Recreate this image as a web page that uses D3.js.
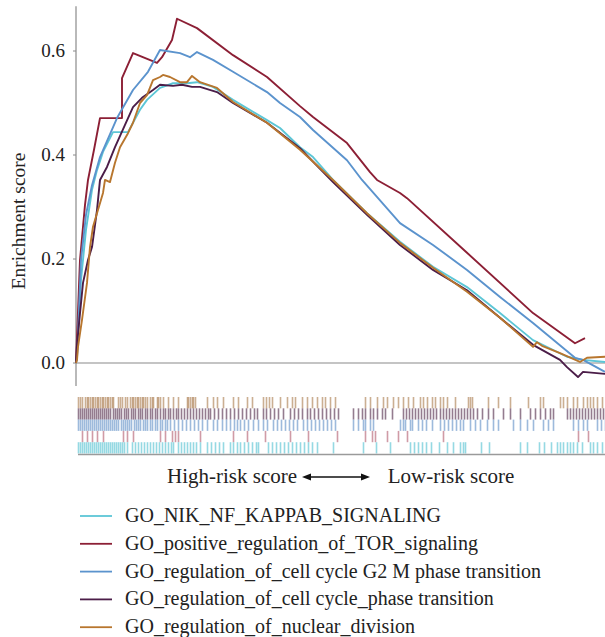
<!DOCTYPE html>
<html lang="en">
<head>
  <meta charset="UTF-8">
  <title>GSEA enrichment curves</title>
  <script src="https://d3js.org/d3.v7.min.js"></script>
  <style>
    body { margin: 0; background: #fff; }
    svg text { font-family: "Liberation Serif", "DejaVu Serif", serif; fill: #222; }
  </style>
</head>
<body>
  <svg width="605" height="637"></svg>
  <script>
    // gene sets, in legend order
    const setNames = [
      "GO_NIK_NF_KAPPAB_SIGNALING",
      "GO_positive_regulation_of_TOR_signaling",
      "GO_regulation_of_cell cycle G2 M phase transition",
      "GO_regulation_of_cell cycle_phase transition",
      "GO_regulation_of_nuclear_division"
    ];
    const setColors = ["#5cc6d6", "#8c1f35", "#5b93cd", "#4b1d48", "#b8762e"];
    const rugColors = ["#4ec0d0", "#b0586a", "#5b8cc4", "#4d2545", "#a87a4a"];

    // running enrichment score: [rank position, ES]
    const esNik = [[0,0.0],[1,0.015],[5,0.16],[10,0.256],[16,0.333],[21,0.371],[27,0.406],[37,0.444],[52,0.444],[64,0.487],[71,0.506],[84,0.529],[97,0.538],[111,0.538],[121,0.54],[137,0.531],[157,0.506],[191,0.467],[204,0.452],[224,0.415],[237,0.396],[257,0.352],[291,0.288],[324,0.233],[357,0.185],[391,0.146],[424,0.096],[457,0.044],[491,0.012],[507,0.006],[529,0.002]];
    const esTor = [[0,0.0],[4,0.198],[9,0.304],[12,0.352],[18,0.41],[24,0.471],[46,0.471],[46,0.548],[57,0.596],[81,0.577],[86,0.588],[96,0.621],[101,0.662],[121,0.644],[157,0.592],[191,0.55],[224,0.494],[237,0.473],[271,0.423],[294,0.367],[301,0.352],[324,0.327],[331,0.317],[391,0.212],[457,0.096],[499,0.038],[509,0.048]];
    const esG2m = [[0,0.0],[1,0.01],[5,0.198],[10,0.285],[16,0.342],[24,0.396],[41,0.471],[57,0.525],[72,0.56],[84,0.602],[104,0.596],[114,0.588],[121,0.598],[137,0.583],[157,0.56],[191,0.521],[204,0.5],[224,0.473],[237,0.448],[271,0.39],[286,0.352],[324,0.269],[357,0.227],[391,0.179],[424,0.127],[457,0.077],[499,0.01],[507,0.006],[529,-0.017]];
    const esPhase = [[0,0.0],[1,0.035],[4,0.096],[7,0.154],[12,0.198],[16,0.223],[21,0.294],[24,0.352],[31,0.377],[39,0.415],[49,0.458],[57,0.492],[66,0.51],[77,0.525],[84,0.535],[97,0.533],[106,0.535],[116,0.531],[124,0.531],[141,0.521],[157,0.5],[191,0.462],[224,0.413],[257,0.348],[291,0.285],[324,0.227],[357,0.179],[391,0.14],[424,0.087],[457,0.035],[484,0.006],[491,-0.008],[502,-0.027],[507,-0.017],[529,-0.021]];
    const esNuclear = [[0,0.0],[1,0.006],[2,0.031],[6,0.083],[11,0.154],[14,0.223],[17,0.262],[27,0.327],[29,0.352],[34,0.348],[39,0.385],[44,0.415],[52,0.442],[57,0.462],[64,0.5],[71,0.515],[77,0.544],[84,0.55],[87,0.554],[94,0.55],[104,0.54],[111,0.54],[116,0.552],[124,0.54],[141,0.529],[157,0.502],[191,0.462],[224,0.41],[257,0.352],[291,0.288],[324,0.231],[357,0.183],[391,0.137],[424,0.087],[457,0.031],[461,0.04],[466,0.033],[484,0.019],[504,0.002],[511,0.01],[529,0.012]];

    // hit positions of each gene set along the ranked list
    const hitsNik = [2,4,6,8,10,12,14,16,18,20,22,24,26,28,30,32,34,36,38,40,42,44,46,48,51,56,59,62,65,68,71,74,77,80,83,86,89,92,95,97,102,105,108,111,114,117,120,124,131,135,139,143,147,154,157,161,164,168,172,176,180,182,192,196,200,204,208,212,216,220,224,228,232,236,241,257,287,300,314,334,338,342,346,350,355,363,371,377,384,387,389,405,413,444,451,463,468,475,481,484,487,491,494,497,501,506,514,517,521,526];
    const hitsTor = [6,11,16,21,27,47,51,57,84,89,96,99,102,124,157,171,189,214,232,261,289,296,299,311,322,331,367,502,512];
    const hitsG2m = [2,4,6,8,10,12,14,16,18,20,22,24,26,28,30,32,34,36,38,40,42,45,47,49,51,53,55,58,60,62,64,67,69,71,74,76,79,81,84,86,89,91,94,98,102,106,110,114,118,122,126,131,137,141,146,150,154,158,161,164,168,172,177,182,187,191,197,201,205,209,213,217,221,227,231,235,239,243,247,251,255,259,277,282,287,289,294,297,324,327,329,334,336,342,346,350,356,364,368,372,376,380,384,387,394,399,404,411,417,422,437,444,451,457,467,472,477,497,502,507,511,521,525,529];
    const hitsPhase = [2,4,6,8,10,12,14,16,18,20,22,24,26,28,30,32,34,37,39,41,43,45,48,50,52,55,57,59,62,64,66,69,71,74,76,79,81,84,87,89,92,94,97,100,102,105,108,111,114,117,120,123,126,129,132,134,138,142,146,150,154,158,162,166,170,174,178,181,187,190,194,198,202,207,214,218,222,226,231,234,238,242,246,250,254,258,262,277,282,286,289,294,297,301,306,309,316,327,330,333,336,339,342,345,348,351,354,357,360,364,367,370,373,376,379,382,385,388,391,394,397,401,406,412,417,427,434,444,454,459,464,469,474,477,491,494,497,500,503,506,509,512,515,518,521,524,527];
    const hitsNuclear = [2,4,6,9,11,12,14,16,17,19,21,22,24,26,27,29,31,32,34,36,37,42,44,46,49,51,54,56,57,59,61,62,64,66,67,69,71,74,76,77,81,82,84,87,92,97,102,111,112,114,116,117,119,131,137,141,147,157,162,171,176,187,190,193,196,204,211,216,219,226,231,236,241,246,249,254,259,289,294,301,307,311,317,322,327,332,337,344,347,351,356,359,364,367,371,379,392,394,396,412,422,434,452,464,467,484,487,491,497,501,507,511,514,517,521,526];

    const curves = [esNik, esTor, esG2m, esPhase, esNuclear];
    // rug rows drawn top to bottom
    const rugOrder = [4, 3, 2, 1, 0];
    const hits = [hitsNik, hitsTor, hitsG2m, hitsPhase, hitsNuclear];

    const yTicks = [0.0, 0.2, 0.4, 0.6];

    const svg = d3.select("svg");

    const x = d3.scaleLinear().domain([0, 529]).range([76, 605]);
    const y = d3.scaleLinear().domain([0, 0.6]).range([363, 51]);

    // y axis
    svg.append("line")
      .attr("x1", 76).attr("x2", 76)
      .attr("y1", y(0.686)).attr("y2", y(-0.044))
      .attr("stroke", "#8a8a8a").attr("stroke-width", 1.2);

    yTicks.forEach(t => {
      svg.append("line")
        .attr("x1", 73).attr("x2", 76)
        .attr("y1", y(t)).attr("y2", y(t))
        .attr("stroke", "#8a8a8a");
      svg.append("text")
        .attr("x", 65).attr("y", y(t) + 6)
        .attr("text-anchor", "end")
        .attr("font-size", 19)
        .text(t.toFixed(1));
    });

    svg.append("text")
      .attr("transform", "translate(25,221) rotate(-90)")
      .attr("text-anchor", "middle")
      .attr("font-size", 19.5)
      .text("Enrichment score");

    // zero line
    svg.append("line")
      .attr("x1", 76).attr("x2", 605)
      .attr("y1", y(0)).attr("y2", y(0))
      .attr("stroke", "#8a8a8a").attr("stroke-width", 1.2);

    const line = d3.line()
      .x(d => x(d[0]))
      .y(d => y(d[1]));

    curves.forEach((c, i) => {
      svg.append("path")
        .datum(c)
        .attr("d", line)
        .attr("fill", "none")
        .attr("stroke", setColors[i])
        .attr("stroke-width", 1.9)
        .attr("stroke-linejoin", "round");
    });

    // rug of hits
    const rugTop = 397, rowH = 11.3;
    rugOrder.forEach((si, row) => {
      const g = svg.append("g");
      g.selectAll("line")
        .data(hits[si])
        .join("line")
        .attr("x1", d => x(d) + 0.5).attr("x2", d => x(d) + 0.5)
        .attr("y1", rugTop + row * rowH)
        .attr("y2", rugTop + (row + 1) * rowH)
        .attr("stroke", rugColors[si])
        .attr("stroke-width", 1.6)
        .attr("stroke-opacity", 0.6);
    });

    svg.append("line")
      .attr("x1", 78).attr("x2", 605)
      .attr("y1", 454.5).attr("y2", 454.5)
      .attr("stroke", "#9a9a9a").attr("stroke-width", 1.5);

    // x axis caption with double arrow
    svg.append("text")
      .attr("x", 232).attr("y", 483)
      .attr("text-anchor", "middle")
      .attr("font-size", 21)
      .text("High-risk score");
    svg.append("text")
      .attr("x", 451).attr("y", 483)
      .attr("text-anchor", "middle")
      .attr("font-size", 21)
      .text("Low-risk score");

    const ay = 477;
    svg.append("line")
      .attr("x1", 306).attr("x2", 366)
      .attr("y1", ay).attr("y2", ay)
      .attr("stroke", "#111").attr("stroke-width", 1.4);
    svg.append("path")
      .attr("d", `M302,${ay} L311,${ay - 3.5} L311,${ay + 3.5} Z`)
      .attr("fill", "#111");
    svg.append("path")
      .attr("d", `M370,${ay} L361,${ay - 3.5} L361,${ay + 3.5} Z`)
      .attr("fill", "#111");

    // legend
    const legend = svg.append("g");
    setNames.forEach((name, i) => {
      const ly = 516 + i * 27.8;
      legend.append("line")
        .attr("x1", 80).attr("x2", 112)
        .attr("y1", ly).attr("y2", ly)
        .attr("stroke", setColors[i]).attr("stroke-width", 1.8);
      legend.append("text")
        .attr("x", 125).attr("y", ly + 6)
        .attr("font-size", 20)
        .text(name);
    });
  </script>
</body>
</html>
